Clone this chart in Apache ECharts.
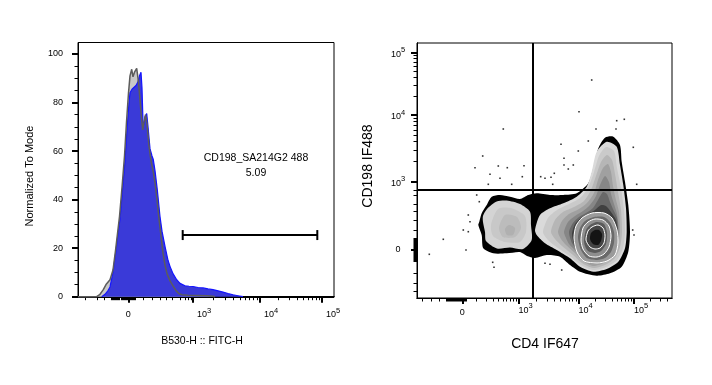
<!DOCTYPE html>
<html><head><meta charset="utf-8">
<script src="https://cdn.jsdelivr.net/npm/echarts@6/dist/echarts.min.js"></script>
<style>html,body{margin:0;padding:0;background:#fff}#c{width:712px;height:385px}</style>
</head><body><div id="c"></div>
<script>
// ================= DATA (channel units of the display scale) =================
// Left histogram: B530-H :: FITC-H, 256-channel display, normalized to mode
const BLUE_HIST = [[23.7,0],[27,1],[30,2.5],[32,4],[35,10],[38,19],[40,26],[42,32],[44.5,44],[47,56],[49,69],[51,80],[52,84],[54,85.5],[56,86],[58,87],[60,88.5],[61.5,91],[63,92.5],[64,86],[65,72],[66,71],[67,74],[68.7,75.5],[70,70],[72,61],[74,58],[75.3,56.5],[77,52],[79.3,44],[82,33],[84,27],[87,20.7],[90,15],[92,12.5],[95,9.5],[98.7,7],[102,5.5],[107,4.5],[111,4.3],[115,4.2],[120,3.8],[125,3.6],[130,3.2],[135,2.9],[140,2.4],[145,1.9],[150,1.3],[155,0.8],[160,0.4],[165,0]];
const GRAY_HIST = [[0,0],[18.7,0],[22,1],[25.3,2.9],[28,5],[32,7],[35,11],[37.5,19],[39.5,26],[41.5,33],[44,45],[46.5,58],[48.5,72],[50.5,84],[52,91],[53.7,93.7],[55,90.6],[56.5,92.5],[58.7,94.1],[60,90],[61,86],[62,81],[63,76],[64.7,68.7],[66,72],[67.5,75],[69,71],[71,62],[73,56],[75,52],[77,47],[79,40],[81,32],[83,25],[85,18],[87,13],[89,9.5],[92,6.5],[95,4.5],[98,2.5],[101,1.2],[104,0.8],[110,0.6],[120,0.5],[130,0.4],[135,0.2],[137,0]];
const GATE_RANGE = [104.7, 239.3];
const GATE_LEVEL = 25.4;
const GATE_NAME = 'CD198_SA214G2 488';
const GATE_PCT = '5.09';

// Left axes
const LEFT_X_ZERO = 50.3;
const LEFT_X_DECADES = [115, 182, 244];
const LEFT_X_DECADE_EXP = ['3', '4', '5'];
const LEFT_X_LIN_TICKS = [7, 19, 26, 65, 74, 82, 88, 94, 102, 107, 110.5, 113];
const LEFT_X_DENSE = [[33.7, 42], [43.7, 50], [52, 57.7]];
const LEFT_Y_MAJOR = [0, 20, 40, 60, 80, 100];
const LEFT_Y_MINOR = [5, 10, 15, 25, 30, 35, 45, 50, 55, 65, 70, 75, 85, 90, 95];

// Right axes
const RIGHT_X_ZERO = 45.3;
const RIGHT_X_DECADES = [101.5, 161.5, 217];
const RIGHT_X_DECADE_EXP = ['3', '4', '5'];
const RIGHT_X_LIN_TICKS = [5.7, 14, 22, 59.7, 69.7, 76.3, 81.3, 86.3, 89.7, 93, 96.3, 99];
const RIGHT_X_DENSE = [[29, 49.7]];
const RIGHT_Y_ZERO = 48;
const RIGHT_Y_DECADES = [116.3, 183, 245.3];
const RIGHT_Y_DECADE_EXP = ['3', '4', '5'];
const RIGHT_Y_LIN_TICKS = [6.3, 14.7, 24.7, 68, 77.3, 86.3, 94, 102.3, 107.3];
const RIGHT_Y_DENSE = [[36.3, 59.7]];
const QUAD_X = 115.7;
const QUAD_Y = 108.7;

// Right contour (zebra density) levels: outer -> inner
const CONTOURS = [
  [[61.3,73],[64.7,63],[66.3,49.7],[76.3,44.7],[89.7,44.7],[103,46],[110,42],[118,40],[129.7,43],[143,41.3],[153,33],[163,26.3],[179.7,22.3],[193,24.7],[204.7,31.3],[211.3,46.3],[213,66.3],[211.3,93],[208,116.3],[204.7,136.3],[203,153],[196.3,161.3],[188,160.3],[181.3,149.7],[176.3,129.7],[171.3,114.7],[159.7,104.7],[146.3,103],[133,103],[119.7,104.7],[111.3,103],[103,99],[93,101.3],[83,103],[74.7,101.3],[69.7,93],[64.7,84.7],[62.3,76.3]],
  [[66,76],[68,66],[69,57],[80,49.5],[93,50.5],[106,49],[114.7,58],[114,73],[113,86.3],[103,94],[89.7,97.5],[79.7,96.5],[70,89],[66,82]],
  [[74,73],[76,62],[88,56],[103,56],[109,66],[108,82],[94,90],[81,89]],
  [[82,70],[86,61],[98,61],[104,70],[100,81],[88,83]],
  [[88,69],[90,63],[96,63],[98,70],[92,73]],
  [[118,68],[123,83],[133,89.7],[146.3,94.7],[159.7,101.3],[169.7,111.3],[174.7,126.3],[179.7,146.3],[189.7,156.3],[199.7,151.3],[203,133],[206.3,113],[209,89.7],[209.7,66.3],[208,49.7],[201.3,36.3],[189.7,29],[176.3,26.3],[163,31.3],[153,39.7],[139.7,48],[128,54.7],[119.7,63]],
  [[126,66],[131,80],[140,88],[152,94],[163,100],[171,110],[177,126],[182,142],[189,151],[197,147],[200,130],[204,110],[207,88],[208,66],[206,50],[200,38],[189,31],[176,28],[164,33],[154,41],[141,50],[131,58]],
  [[134,66],[138,78],[146,86],[157,91],[167,97],[174,108],[179,122],[184,136],[190,143],[195,138],[198,124],[201,106],[204,88],[205,66],[203,51],[198,40],[188,33],[176,30],[165,35],[156,43],[145,52],[138,59]],
  [[141,66],[145,77],[152,84],[162,89],[170,95],[177,105],[181,118],[186,130],[191,134],[194,126],[196,112],[199,98],[202,86],[203,66],[201,52],[196,42],[187,35],[176,32],[166,37],[158,45],[149,53],[144,59]],
  [[147,66],[151,76],[158,82],[166,87],[173,93],[179,102],[183,113],[188,122],[192,116],[194,104],[197,94],[200,84],[202,66],[200,53],[195,43],[186,36],[176,34],[167,38],[160,46],[152,54],[149,60]],
  [[152,66],[156,75],[162,81],[169,85],[176,90],[181,98],[186,106],[190,104],[193,96],[196,89],[200,80],[201,66],[199,53],[194,44],[186,37],[176,35],[168,39],[161,47],[155,55]],
  [[155,64],[158,74],[164,80],[171,84],[178,88],[184,93],[189,92],[194,86],[199,78],[201,66],[199,53],[194,44],[186,37],[176,35],[168,39],[161,46],[157,54]],
  [[157,60],[159,72],[165,80],[175,85],[187,85],[195,80],[200,68],[201,55],[198,43],[190,37],[180,35],[167,37],[160,46]],
  [[161,60],[163,70],[168,77],[177,81],[187,81],[193,76],[197,66],[197,55],[194,46],[188,40],[180,38],[170,40],[164,48]],
  [[164,58],[166,70],[171,76],[178,79],[186,78],[192,72],[194,62],[192,51],[187,44],[180,41],[172,42],[166,49]],
  [[167,58],[169,68],[173,73],[180,76],[187,74],[190,65],[189,54],[184,47],[178,45],[171,47],[168,52]],
  [[169,58],[171,67],[175,71],[181,73],[186,70],[188,63],[187,55],[183,50],[178,49],[173,51]],
  [[173,59],[174,65],[178,68],[182,68],[185,64],[184,57],[181,53],[176,54]]
];

// Outlier events
const EVENTS = [[174.7,218],[162,186.3],[199.7,177.3],[207.3,178.7],[86.3,169],[179,169],[199,169],[171.3,157],[216.3,150.7],[144,153.7],[161.3,147],[65.7,142],[147,139.7],[58,130.3],[81.3,132],[90.3,130.3],[107,132.3],[147,133],[151.3,129],[156.3,133],[137.3,124.7],[73,123.7],[83,119.7],[105.3,121.3],[123.7,121.3],[128,119.7],[134,120.7],[135.7,113.7],[71.3,113.7],[94.7,113.7],[219.7,113.7],[59.7,103],[62.3,96.3],[51.3,83],[53,76.3],[46.3,68],[51.3,66.3],[26.3,58.7],[49,48],[12.3,43.7],[75.7,35.7],[77,30.7],[128,34.7],[133,33.7],[144.7,28],[215.7,68],[217,63],[216.3,108]];

// ================= STYLES =================
const FONT = "'Liberation Sans', Arial, sans-serif";
const CONTOUR_FILL = ['#000000','#d4d4d4','#c8c8c8','#bcbcbc','#b0b0b0',
  '#dadada','#cacaca','#b6b6b6','#a0a0a0','#868686','#686868','#404040',
  '#9a9a9a','#6a6a6a','#8e8e8e','#5a5a5a','#444444','#141414'];
const CONTOUR_STROKE = [null,null,null,null,null,null,null,null,null,null,null,null,
  '#ffffff',null,'#ffffff',null,'#ffffff',null];

// ================= HELPERS =================
function denseTicks(ranges) { const out = []; ranges.forEach(r => { for (let v = r[0]; v <= r[1] + 1e-6; v += 1) out.push(+v.toFixed(2)); }); return out; }
function decadeMinor(dec, limit) {
  const out = [];
  for (let i = 0; i < dec.length; i++) {
    const span = i < dec.length - 1 ? dec[i + 1] - dec[i] : dec[i] - dec[i - 1];
    for (let m = 2; m <= 9; m++) { const p = dec[i] + span * Math.log10(m); if (p < limit) out.push(+p.toFixed(2)); }
  }
  return out;
}
function expFormatter(pos, exps) {
  return v => { const i = pos.findIndex(p => Math.abs(p - v) < 0.01); return i < 0 ? '' : '{b|10}{s|' + exps[i] + '}'; };
}
const RICH = { b: { fontSize: 9, fontFamily: FONT, color: '#000', verticalAlign: 'bottom' },
               s: { fontSize: 7.5, fontFamily: FONT, color: '#000', verticalAlign: 'bottom', padding: [0, 0, 5, 0] } };

const leftXMinor = LEFT_X_LIN_TICKS.concat(denseTicks(LEFT_X_DENSE), decadeMinor(LEFT_X_DECADES, 255));
const rightXMinor = RIGHT_X_LIN_TICKS.concat(denseTicks(RIGHT_X_DENSE), decadeMinor(RIGHT_X_DECADES, 254));
const rightYMinor = RIGHT_Y_LIN_TICKS.concat(denseTicks(RIGHT_Y_DENSE), decadeMinor(RIGHT_Y_DECADES, 254));

const axisLine = { show: true, lineStyle: { color: '#000', width: 1 } };
function baseAxis(extra) {
  return Object.assign({ type: 'value', axisLine: axisLine, splitLine: { show: false }, animation: false }, extra);
}

const chart = echarts.init(document.getElementById('c'), null, { renderer: 'canvas' });
chart.setOption({
  animation: false,
  backgroundColor: '#fff',
  grid: [
    { left: 78, top: 42.5, width: 256, height: 255, show: true, borderColor: '#000', borderWidth: 1, backgroundColor: 'rgba(0,0,0,0)' },
    { left: 417, top: 43, width: 255, height: 255, show: true, borderColor: '#000', borderWidth: 1, backgroundColor: 'rgba(0,0,0,0)' }
  ],
  xAxis: [
    baseAxis({ gridIndex: 0, position: 'bottom', min: 0, max: 256,
      axisTick: { show: true, customValues: leftXMinor, length: 3.5, lineStyle: { color: '#000', width: 1 } },
      axisLabel: { show: true, customValues: [LEFT_X_ZERO], formatter: () => '0', margin: 13, fontSize: 9, fontFamily: FONT, color: '#000' } }),
    baseAxis({ gridIndex: 0, position: 'bottom', min: 0, max: 256,
      axisTick: { show: true, customValues: [LEFT_X_ZERO].concat(LEFT_X_DECADES), length: 6, lineStyle: { color: '#000', width: 2 } },
      axisLabel: { show: true, customValues: LEFT_X_DECADES, formatter: expFormatter(LEFT_X_DECADES, LEFT_X_DECADE_EXP), rich: RICH, align: 'left', padding: [0, 0, 0, 4], margin: 9 } }),
    baseAxis({ gridIndex: 1, position: 'bottom', min: 0, max: 255,
      axisTick: { show: true, customValues: rightXMinor, length: 3.5, lineStyle: { color: '#000', width: 1 } },
      axisLabel: { show: true, customValues: [RIGHT_X_ZERO], formatter: () => '0', margin: 10, fontSize: 9, fontFamily: FONT, color: '#000' } }),
    baseAxis({ gridIndex: 1, position: 'bottom', min: 0, max: 255,
      axisTick: { show: true, customValues: [RIGHT_X_ZERO].concat(RIGHT_X_DECADES), length: 6, lineStyle: { color: '#000', width: 2 } },
      axisLabel: { show: true, customValues: RIGHT_X_DECADES, formatter: expFormatter(RIGHT_X_DECADES, RIGHT_X_DECADE_EXP), rich: RICH, align: 'left', margin: 4 } })
  ],
  yAxis: [
    baseAxis({ gridIndex: 0, position: 'left', min: -0.33, max: 104.74,
      axisTick: { show: true, customValues: LEFT_Y_MAJOR, length: 6, lineStyle: { color: '#000', width: 2 } },
      axisLabel: { show: true, customValues: LEFT_Y_MAJOR, margin: 15, fontSize: 9, fontFamily: FONT, color: '#000' } }),
    baseAxis({ gridIndex: 0, position: 'left', min: -0.33, max: 104.74,
      axisTick: { show: true, customValues: LEFT_Y_MINOR, length: 3.5, lineStyle: { color: '#000', width: 1 } },
      axisLabel: { show: false } }),
    baseAxis({ gridIndex: 1, position: 'left', min: 0, max: 255,
      axisTick: { show: true, customValues: rightYMinor, length: 3.5, lineStyle: { color: '#000', width: 1 } },
      axisLabel: { show: true, customValues: [RIGHT_Y_ZERO], formatter: () => '0', margin: 19, align: 'center', fontSize: 9, fontFamily: FONT, color: '#000' } }),
    baseAxis({ gridIndex: 1, position: 'left', min: 0, max: 255,
      axisTick: { show: true, customValues: [RIGHT_Y_ZERO].concat(RIGHT_Y_DECADES), length: 6, lineStyle: { color: '#000', width: 2 } },
      axisLabel: { show: true, customValues: RIGHT_Y_DECADES, formatter: expFormatter(RIGHT_Y_DECADES, RIGHT_Y_DECADE_EXP), rich: RICH, align: 'center', margin: 19 } })
  ],
  graphic: [
    { type: 'text', x: 30, y: 176, rotation: Math.PI / 2, style: { text: 'Normalized To Mode', fontSize: 11, fontFamily: FONT, fill: '#000', align: 'center', verticalAlign: 'middle' } },
    { type: 'text', x: 202, y: 341, style: { text: 'B530-H :: FITC-H', fontSize: 10.5, fontFamily: FONT, fill: '#000', align: 'center', verticalAlign: 'middle' } },
    { type: 'text', x: 545, y: 344, style: { text: 'CD4 IF647', fontSize: 14, fontFamily: FONT, fill: '#000', align: 'center', verticalAlign: 'middle' } },
    { type: 'text', x: 368, y: 166, rotation: Math.PI / 2, style: { text: 'CD198 IF488', fontSize: 14, fontFamily: FONT, fill: '#000', align: 'center', verticalAlign: 'middle' } }
  ],
  series: [
    { type: 'line', xAxisIndex: 0, yAxisIndex: 0, data: GRAY_HIST, symbol: 'none', silent: true,
      lineStyle: { width: 0, opacity: 0 }, areaStyle: { color: '#c8c8c8', opacity: 1 }, z: 1 },
    { type: 'line', xAxisIndex: 0, yAxisIndex: 0, data: BLUE_HIST, symbol: 'none', silent: true,
      lineStyle: { color: '#1414ff', width: 1.2 }, areaStyle: { color: '#3a3ad8', opacity: 1 }, z: 2 },
    { type: 'line', xAxisIndex: 0, yAxisIndex: 0, data: GRAY_HIST, symbol: 'none', silent: true,
      lineStyle: { color: '#5c5c5c', width: 1.5 }, z: 3 },
    { type: 'custom', xAxisIndex: 0, yAxisIndex: 0, silent: true, z: 4,
      data: [[GATE_RANGE[0], GATE_LEVEL]],
      renderItem: (params, api) => {
        const a = api.coord([GATE_RANGE[0], GATE_LEVEL]);
        const b = api.coord([GATE_RANGE[1], GATE_LEVEL]);
        const mid = api.coord([(GATE_RANGE[0] + GATE_RANGE[1]) / 2, GATE_LEVEL]);
        const st = { stroke: '#000', lineWidth: 2 };
        return { type: 'group', children: [
          { type: 'line', shape: { x1: a[0], y1: a[1], x2: b[0], y2: b[1] }, style: st },
          { type: 'line', shape: { x1: a[0], y1: a[1] - 5, x2: a[0], y2: a[1] + 5 }, style: st },
          { type: 'line', shape: { x1: b[0], y1: b[1] - 5, x2: b[0], y2: b[1] + 5 }, style: st },
          { type: 'text', x: mid[0] + 6, y: mid[1] - 77, style: { text: GATE_NAME, fontSize: 10.5, fontFamily: FONT, fill: '#000', align: 'center', verticalAlign: 'middle' } },
          { type: 'text', x: mid[0] + 6, y: mid[1] - 62, style: { text: GATE_PCT, fontSize: 10.5, fontFamily: FONT, fill: '#000', align: 'center', verticalAlign: 'middle' } }
        ] };
      } },
    { type: 'custom', xAxisIndex: 2, yAxisIndex: 2, silent: true, z: 2,
      data: CONTOURS.map(c => c[0]),
      renderItem: (params, api) => {
        const poly = CONTOURS[params.dataIndex];
        const stroke = CONTOUR_STROKE[params.dataIndex];
        return { type: 'polygon', shape: { points: poly.map(p => api.coord(p)), smooth: 0.25 },
          style: { fill: CONTOUR_FILL[params.dataIndex], stroke: stroke || 'none', lineWidth: stroke ? 1 : 0 } };
      } },
    { type: 'scatter', xAxisIndex: 2, yAxisIndex: 2, data: EVENTS, symbol: 'rect', symbolSize: 1.6, silent: true, z: 3,
      itemStyle: { color: '#000' },
      markLine: { silent: true, symbol: ['none', 'none'], label: { show: false }, animation: false,
        lineStyle: { color: '#000', width: 2, type: 'solid' },
        data: [{ xAxis: QUAD_X }, { yAxis: QUAD_Y }] } }
  ]
});
</script></body></html>
